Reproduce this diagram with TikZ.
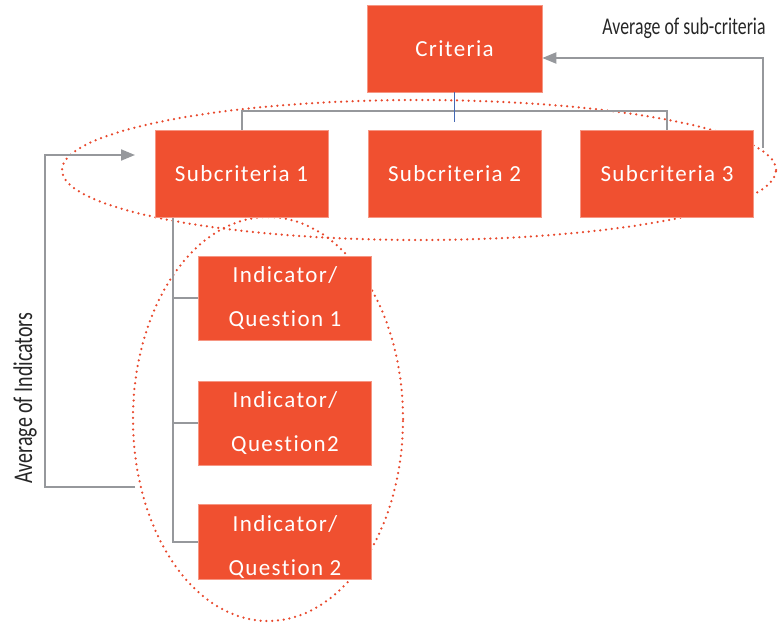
\documentclass[tikz,border=0pt]{standalone}
\usepackage{fontspec}
\setmainfont{Carlito}
\newfontfamily\boxfont[LetterSpace=6,RawFeature=-liga]{Carlito}
\newfontfamily\narrowfont[FakeStretch=0.74]{Carlito}
\usetikzlibrary{arrows.meta,shapes.geometric}

\definecolor{critred}{RGB}{240,80,48}
\definecolor{linkgrey}{RGB}{150,152,156}
\definecolor{ringred}{RGB}{232,72,44}
\definecolor{busblue}{RGB}{68,104,180}

\tikzstyle{critbox}=[
    fill=critred,
    draw=critred!60!white,
    line width=0.6pt,
    text=white,
    font=\boxfont\fontsize{23}{44}\selectfont,
    align=center,
    inner sep=0pt,
    minimum width=173pt,
    minimum height=87pt,
  ]
\tikzstyle{link}=[
    linkgrey,
    line width=2pt,
  ]
\tikzstyle{avg}=[
    link,
    -{Triangle[length=14pt,width=11pt]},
  ]
\tikzstyle{ring}=[
    ringred,
    line width=2.5pt,
    line cap=round,
    dash pattern=on 0pt off 5.8pt,
  ]
\tikzstyle{avglabel}=[
    font=\narrowfont\fontsize{24}{26}\selectfont,
    text=black!85,
    inner sep=0pt,
  ]

\begin{document}
\begin{tikzpicture}[x=1pt, y=-1pt]
      \useasboundingbox (0,0) rectangle (778,626);
      % groupings (behind the boxes)
      \node[ring, draw, ellipse, minimum width=714pt, minimum height=140pt, inner sep=0pt] (subring) at (419, 170) {};
      \node[ring, draw, ellipse, minimum width=270pt, minimum height=404pt, inner sep=0pt] (qring) at (268, 419) {};

      \node[critbox, minimum width=175pt] (crit) at (454.5, 48.5) {Criteria};
      \foreach \n/\x in {1/241.5, 2/454.5, 3/667} {%
        \node[critbox] (sub\n) at (\x, 174) {Subcriteria \n};
      }
      \node[critbox, minimum height=84pt] (q1) at (285, 298) {Indicator/\\Question 1};
      \node[critbox, minimum height=84pt] (q2) at (285, 423) {Indicator/\\Question2};
      \node[critbox, minimum height=75pt] (q3) at (285, 541.5) {};
      \node[critbox, fill=none, draw=none] (q3text) at (285, 547) {Indicator/\\Question 2};

      % tree lines
      \coordinate (bus) at (454.5, 111);
      \draw[link] (sub1.north) -- (sub1.north |- bus) -- (sub3.north |- bus) -- (sub3.north);
      \draw[busblue, line width=1.3pt] (crit.south) -- ([yshift=8pt]sub2.north);
      \coordinate (stem) at (173, 0);
      \draw[link] (stem |- sub1.south) -- (stem |- q3.west) -- (q3.west);
      \draw[link] (stem |- q1.west) -- (q1.west);
      \draw[link] (stem |- q2.west) -- (q2.west);

      % averaging arrows
      \coordinate (qout) at (135, 487);
      \coordinate (qin) at (135, 155);
      \draw[avg] (qout) -- (45, 487) -- (45, 155) -- (qin);
      \node[avglabel, font=\narrowfont\fontsize{27}{29}\selectfont, rotate=90] (qlabel) at (25, 398) {Average of Indicators};
      \coordinate (sout) at (763, 148);
      \draw[avg] (sout) -- (763, 58) -- (crit.east |- 0,58);
      \node[avglabel] (slabel) at (684, 28) {Average of sub-criteria};
    \end{tikzpicture}
\end{document}
